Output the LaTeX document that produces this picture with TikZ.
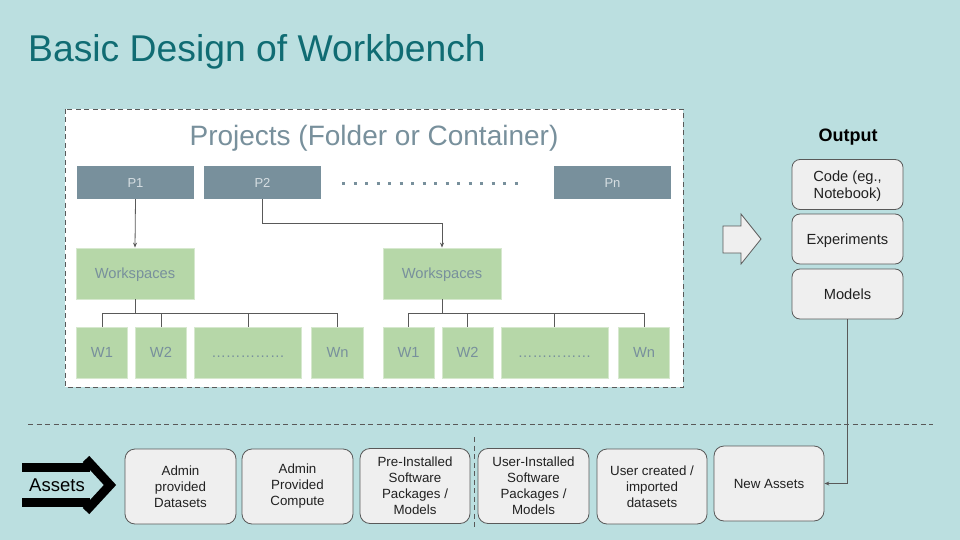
\documentclass[tikz,border=0pt]{standalone}
\usepackage{fontspec}
\setmainfont{Liberation Sans}
\usetikzlibrary{arrows.meta}
\definecolor{bgc}{RGB}{187,223,224}
\definecolor{titlec}{RGB}{16,108,115}
\definecolor{slate}{RGB}{120,144,156}
\definecolor{ptext}{RGB}{214,222,226}
\definecolor{wsgreen}{RGB}{182,215,168}
\definecolor{wsedge}{RGB}{214,232,206}
\definecolor{boxfill}{RGB}{239,239,239}
\definecolor{linec}{RGB}{89,89,89}
\definecolor{textc}{RGB}{33,33,33}
\tikzset{
  onecap/.style={text height=#1, text depth=0pt},
  pbox/.style={fill=slate, text=ptext, minimum width=117pt, minimum height=33pt, inner sep=0pt,
    font=\fontsize{13}{15}\selectfont, onecap=9.3pt},
  wsbox/.style={fill=wsgreen, draw=wsedge, line width=0.8pt, text=slate, minimum height=51pt, inner sep=0pt,
    font=\fontsize{14.67}{17}\selectfont, onecap=10.5pt},
  outbox/.style={fill=boxfill, draw=linec, line width=0.8pt, rounded corners=8pt, minimum width=111pt,
    minimum height=50pt, inner sep=0pt, align=center, text=textc, font=\fontsize{14.67}{17}\selectfont},
  assetbox/.style={fill=boxfill, draw=linec, line width=0.8pt, rounded corners=10pt, minimum width=111pt,
    minimum height=75pt, inner sep=0pt, align=center, text=textc, font=\fontsize{13.33}{16}\selectfont},
  conn/.style={draw=linec, line width=0.8pt},
  arr/.style={conn, -{Stealth[length=5pt,width=4pt]}},
  dashline/.style={draw=linec, line width=0.8pt, dash pattern=on 5pt off 3.5pt},
}
\begin{document}
\begin{tikzpicture}[x=1pt,y=-1pt]
\useasboundingbox (0,0) rectangle (960,540);
\fill[bgc] (0,0) rectangle (960,540);

% title
\node[anchor=base west, text=titlec, font=\fontsize{37.3}{40}\selectfont, inner sep=0pt] (title) at (28,62) {Basic Design of Workbench};

% projects container
\draw[fill=white, dashline] (65,109) rectangle (683,387);
\node[text=slate, font=\fontsize{28}{32}\selectfont, inner sep=0pt, onecap=20pt] (projects) at (374,136) {Projects (Folder or Container)};

\node[pbox] (p1) at (135.5,182.5) {P1};
\node[pbox] (p2) at (262.5,182.5) {P2};
\node[pbox] (pn) at (612.5,182.5) {Pn};
\draw[slate, line width=3pt, dash pattern=on 3pt off 8.5pt] (342,183.5) -- (518,183.5);

\node[wsbox, minimum width=118pt] (ws1) at (135,273.5) {Workspaces};
\node[wsbox, minimum width=118pt] (ws2) at (442,273.5) {Workspaces};

\node[wsbox, minimum width=51pt] (w1a) at (102,352.5) {W1};
\node[wsbox, minimum width=51pt] (w2a) at (161,352.5) {W2};
\node[wsbox, minimum width=107pt] (wda) at (248,352.5) {……………};
\node[wsbox, minimum width=52pt] (wna) at (337.5,352.5) {Wn};

\node[wsbox, minimum width=51pt] (w1b) at (408.5,352.5) {W1};
\node[wsbox, minimum width=51pt] (w2b) at (467.5,352.5) {W2};
\node[wsbox, minimum width=107pt] (wdb) at (554.5,352.5) {……………};
\node[wsbox, minimum width=51pt] (wnb) at (644,352.5) {Wn};

\draw[arr] (p1.south) -- (ws1.north);
\draw[arr] (p2.south) -- ++(0,24) -| (ws2.north);

\foreach \t in {w1a,w2a,wda,wna} \draw[conn] (ws1.south) -- ++(0,14) -| (\t.north);
\foreach \t in {w1b,w2b,wdb,wnb} \draw[conn] (ws2.south) -- ++(0,14) -| (\t.north);

% output
\node[font=\fontsize{18}{20}\selectfont\bfseries, text=black, onecap=12.9pt, inner sep=0pt] (output) at (848,135.5) {Output};
\node[outbox, align=none, text height=25.5pt, text depth=14.5pt] (code) at (847.5,184.5)
  {\begin{tabular}{@{}c@{}}Code (eg.,\\Notebook)\end{tabular}};
\node[outbox, onecap=10.5pt] (exp) at (847.5,239) {Experiments};
\node[outbox, onecap=10.5pt] (models) at (847.5,294) {Models};

\draw[fill=boxfill, draw=linec, line width=0.8pt, line join=miter]
  (723,226) -- (741,226) -- (741,214) -- (761,239) -- (741,264) -- (741,253) -- (723,253) -- cycle;

% separator lines
\draw[dashline] (28,424) -- (933,424);
\draw[dashline] (474,437) -- (474,530);

% assets arrow
\draw[line width=9pt] (22,467.5) -- (90,467.5);
\draw[line width=9pt] (22,502.5) -- (90,502.5);
\draw[line width=9pt, line join=miter, miter limit=4] (86,459) -- (110,485) -- (86,511);
\node[font=\fontsize{18.5}{20}\selectfont, text=black, inner sep=0pt, onecap=13.2pt] (assets) at (57,485) {Assets};

% asset boxes
\node[assetbox] (b1) at (180.5,486.5) {Admin\\provided\\Datasets};
\node[assetbox] (b2) at (297.5,486.5) {Admin\\Provided\\Compute};
\node[assetbox, minimum width=110pt] (b3) at (415,486) {Pre-Installed\\Software\\Packages /\\Models};
\node[assetbox] (b4) at (533.5,486) {User-Installed\\Software\\Packages /\\Models};
\node[assetbox, minimum width=110pt] (b5) at (652,486.5) {User created /\\imported\\datasets};
\node[assetbox, minimum width=110pt, onecap=9.5pt] (b6) at (769,483.5) {New Assets};

\draw[arr] (models.south) |- (b6.east);
\end{tikzpicture}
\end{document}
